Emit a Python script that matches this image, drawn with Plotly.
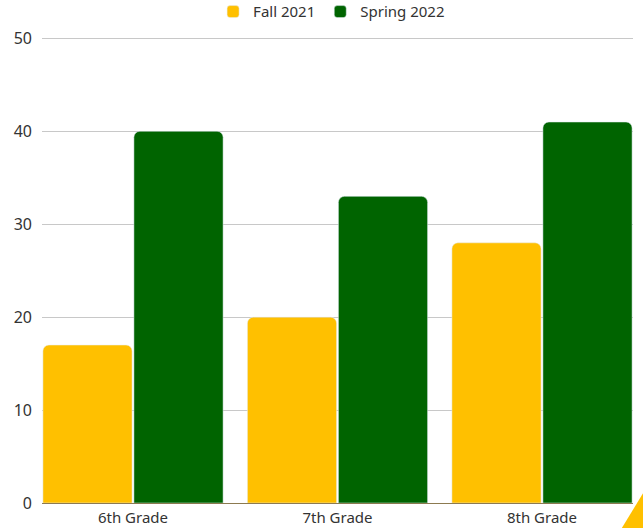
import plotly.graph_objects as go

categories = ["6th Grade", "7th Grade", "8th Grade"]
fall_2021 = [17, 20, 28]
spring_2022 = [40, 33, 41]
y_ticks = [0, 10, 20, 30, 40, 50]

fig = go.Figure()
fig.add_trace(go.Bar(name="Fall 2021", x=categories, y=fall_2021, marker_color="#FFC000"))
fig.add_trace(go.Bar(name="Spring 2022", x=categories, y=spring_2022, marker_color="#006400"))

fig.update_layout(
    width=643, height=528,
    margin=dict(l=42, r=10, t=37, b=25, autoexpand=False),
    paper_bgcolor="white", plot_bgcolor="white",
    barmode="group", bargap=0.11, bargroupgap=0.02, barcornerradius=6,
    font=dict(family="Noto Sans", size=15, color="#333333"),
    legend=dict(orientation="h", x=0.49, xanchor="center", y=1.054, yanchor="middle",
                font=dict(size=15), itemwidth=30, traceorder="normal"),
    showlegend=True,
)
fig.update_xaxes(range=[-0.445, 2.445], showgrid=False, showline=False, ticks="",
                 tickfont=dict(size=15), automargin=False, ticklabelstandoff=4)
fig.update_yaxes(range=[0, 50.15], tickvals=y_ticks, showgrid=True, gridcolor="#c8c8c8",
                 gridwidth=1, zeroline=True, zerolinecolor="#8c7a50", zerolinewidth=1,
                 ticks="", ticklabelstandoff=9, tickfont=dict(size=16), automargin=False)
fig.add_shape(type="path", xref="paper", yref="paper",
              path="M 0.981 -0.054 L 1.017 -0.054 L 1.017 0.021 Z",
              fillcolor="#FFC000", line=dict(width=0), layer="above")

fig.write_html("out.html", config={"displayModeBar": False},
               post_script="document.body.style.margin='0';document.body.style.overflow='hidden';")
